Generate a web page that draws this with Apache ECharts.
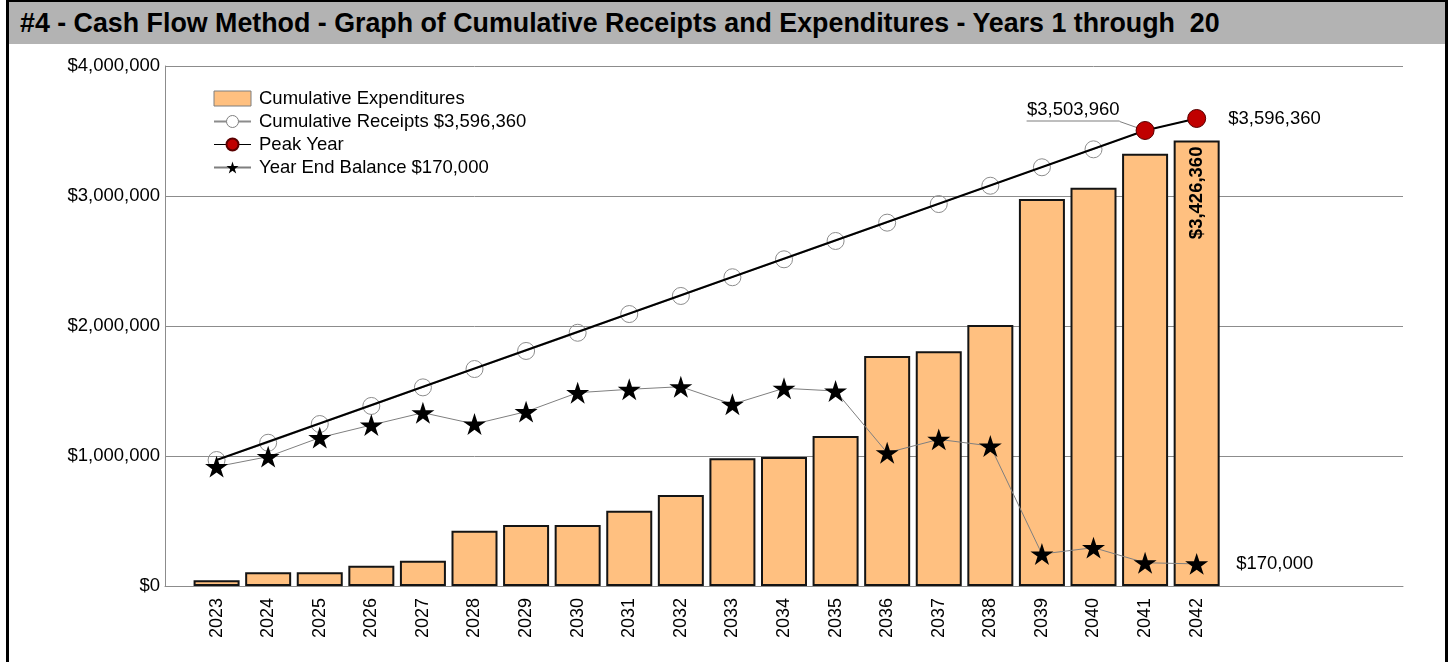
<!DOCTYPE html>
<html>
<head>
<meta charset="utf-8">
<title>Cash Flow Method - Cumulative Receipts and Expenditures</title>
<script src="https://cdn.jsdelivr.net/npm/echarts@6/dist/echarts.min.js"></script>
<style>
  html, body { margin: 0; padding: 0; background: #fff; width: 1452px; height: 662px; overflow: hidden; }
  .frame {
    position: absolute; left: 6px; top: 0; width: 1436px; height: 700px;
    border-left: 3px solid #000; border-right: 3px solid #000; border-top: 2px solid #000;
  }
  .titlebar {
    position: absolute; left: 0; top: 0; right: 0; height: 42px;
    background: #b3b3b3; box-sizing: border-box; padding-left: 11px;
    font: bold 26.8px Arial, "Liberation Sans", sans-serif; line-height: 42px; color: #000;
    white-space: pre;
  }
  #chart { position: absolute; left: 0; top: 0; width: 1452px; height: 662px; }
</style>
</head>
<body>
<div class="frame"><div class="titlebar">#4 - Cash Flow Method - Graph of Cumulative Receipts and Expenditures - Years 1 through  20</div></div>
<div id="chart"></div>
<script>
// Year labels along the bottom axis
const years = ['2023','2024','2025','2026','2027','2028','2029','2030','2031','2032',
               '2033','2034','2035','2036','2037','2038','2039','2040','2041','2042'];
// Cumulative expenditures per year (bars)
const expenditures = [45000, 105000, 105000, 156000, 195000, 425000, 469000, 469000, 579000, 700000,
                      982000, 992000, 1154000, 1769000, 1805000, 2008000, 2977000, 3064000, 3325000, 3426360];
// Cumulative receipts per year (open circles)
const receipts = [969000, 1102000, 1246000, 1385000, 1528000, 1669000, 1808000, 1948000, 2092000, 2231000,
                  2375000, 2513000, 2654000, 2795000, 2938000, 3079000, 3221000, 3359000, 3503960, 3596360];
// Year end balance (stars)
const balance = [918000, 995000, 1141000, 1238000, 1333000, 1246000, 1341000, 1487000, 1513000, 1533000,
                 1398000, 1521000, 1500000, 1025000, 1128000, 1077000, 246000, 295000, 178960, 170000];
// Peak years (indices into years)
const peakYears = [18, 19];
// Value axis ticks
const yTicks = [0, 1000000, 2000000, 3000000, 4000000];

const FONT = 'Arial, "Liberation Sans", sans-serif';
const FS = 18.5;
const money = v => '$' + Math.round(v).toLocaleString('en-US');
const STAR = 'path://M50,0 L61.23,34.55 L97.55,34.55 L68.17,55.9 L79.39,90.45 L50,69.1 L20.61,90.45 L31.83,55.9 L2.45,34.55 L38.77,34.55 Z';
const last = years.length - 1;

const receiptsName = 'Cumulative Receipts ' + money(receipts[last]);
const balanceName = 'Year End Balance ' + money(balance[last]);

// Bars, with the last year's value written inside its bar
const barData = expenditures.map((v, i) => {
  const item = { value: [i, v] };
  if (i === last) {
    item.label = {
      show: true, position: 'insideTop', distance: 6, rotate: 90,
      align: 'right', verticalAlign: 'middle',
      fontFamily: FONT, fontSize: FS, fontWeight: 'bold', color: '#000',
      formatter: p => money(p.value[1])
    };
  }
  return item;
});

// Peak line runs from the first receipt to the peak years
const peakData = [{ value: [0, receipts[0]], symbol: 'none' }].concat(peakYears.map((idx, k) => {
  const item = { value: [idx, receipts[idx]] };
  if (k === 0) {
    item.label = {
      show: true, position: 'left', distance: 16,
      formatter: p => '{v|' + money(p.value[1]) + '}\n{u|}\n{e|}',
      rich: {
        v: { fontFamily: FONT, fontSize: FS, lineHeight: 21, color: '#000', align: 'right' },
        u: { width: 93, height: 1, backgroundColor: '#7f7f7f', align: 'right' },
        e: { height: 21, lineHeight: 21 }
      }
    };
    item.labelLine = { show: true, length2: 0, lineStyle: { color: '#7f7f7f', width: 1 } };
  } else {
    item.label = {
      show: true, position: 'right', distance: 22,
      fontFamily: FONT, fontSize: FS, color: '#000',
      formatter: p => money(p.value[1])
    };
  }
  return item;
}));

const balanceData = balance.map((v, i) => {
  const item = { value: [i, v] };
  if (i === last) {
    item.label = {
      show: true, position: 'right', distance: 28,
      fontFamily: FONT, fontSize: FS, color: '#000',
      formatter: p => money(p.value[1])
    };
  }
  return item;
});

const chart = echarts.init(document.getElementById('chart'), null, { renderer: 'canvas' });
chart.setOption({
  animation: false,
  backgroundColor: 'transparent',
  textStyle: { fontFamily: FONT },
  grid: { left: 165, right: 49, top: 66, bottom: 76, containLabel: false },
  legend: {
    orient: 'vertical', left: 213, top: 89, padding: 0,
    itemWidth: 37, itemHeight: 15, itemGap: 4,
    selectedMode: false,
    textStyle: { fontFamily: FONT, fontSize: FS, color: '#000', padding: [0, 0, 0, 3] },
    data: [
      { name: 'Cumulative Expenditures', icon: 'rect', itemStyle: { borderColor: '#7f7f7f', borderWidth: 1 } },
      { name: receiptsName, itemStyle: { color: '#fff', borderColor: '#7f7f7f', borderWidth: 1 } },
      { name: 'Peak Year', lineStyle: { width: 1 } },
      { name: balanceName }
    ]
  },
  xAxis: {
    type: 'value', min: -1, max: 23, interval: 1,
    axisLine: { show: true, onZero: false, lineStyle: { color: '#8c8c8c', width: 1 } },
    axisTick: { show: false },
    splitLine: { show: false },
    axisLabel: {
      rotate: 90, margin: 12, fontFamily: FONT, fontSize: 18, color: '#000',
      showMinLabel: true, showMaxLabel: true,
      formatter: v => (Number.isInteger(v) && years[v]) ? years[v] : ''
    }
  },
  yAxis: {
    type: 'value', min: yTicks[0], max: yTicks[yTicks.length - 1], interval: yTicks[1] - yTicks[0],
    axisLine: { show: true, onZero: false, lineStyle: { color: '#8c8c8c', width: 1 } },
    axisTick: { show: false },
    splitLine: { show: true, lineStyle: { color: '#8c8c8c', width: 1 } },
    axisLabel: { margin: 5, fontFamily: FONT, fontSize: FS, color: '#000', formatter: v => money(v) }
  },
  series: [
    {
      name: 'Cumulative Expenditures', type: 'bar', data: barData, barWidth: 46,
      itemStyle: { color: '#FFC080', borderColor: '#141414', borderWidth: 2 },
      emphasis: { disabled: true }, z: 2
    },
    {
      name: receiptsName, type: 'line', data: receipts.map((v, i) => [i, v]),
      symbol: 'circle', symbolSize: 17, showAllSymbol: true,
      lineStyle: { color: '#8c8c8c', width: 1 },
      itemStyle: { color: 'rgba(255,255,255,0)', borderColor: '#8c8c8c', borderWidth: 1 },
      emphasis: { disabled: true }, z: 3
    },
    {
      name: 'Peak Year', type: 'line', data: peakData,
      symbol: 'circle', symbolSize: 18, showAllSymbol: true,
      lineStyle: { color: '#000', width: 2 },
      itemStyle: { color: '#c00000', borderColor: '#5a0000', borderWidth: 1 },
      labelLayout: p => (p.dataIndex === 1 ? { dy: -9.5 } : {}),
      emphasis: { disabled: true }, z: 4
    },
    {
      name: balanceName, type: 'line', data: balanceData,
      symbol: STAR, symbolSize: 23, symbolKeepAspect: true, showAllSymbol: true,
      lineStyle: { color: '#7f7f7f', width: 1 },
      itemStyle: { color: '#000', borderColor: '#000', borderWidth: 0 },
      emphasis: { disabled: true }, z: 5
    }
  ]
});
</script>
</body>
</html>
